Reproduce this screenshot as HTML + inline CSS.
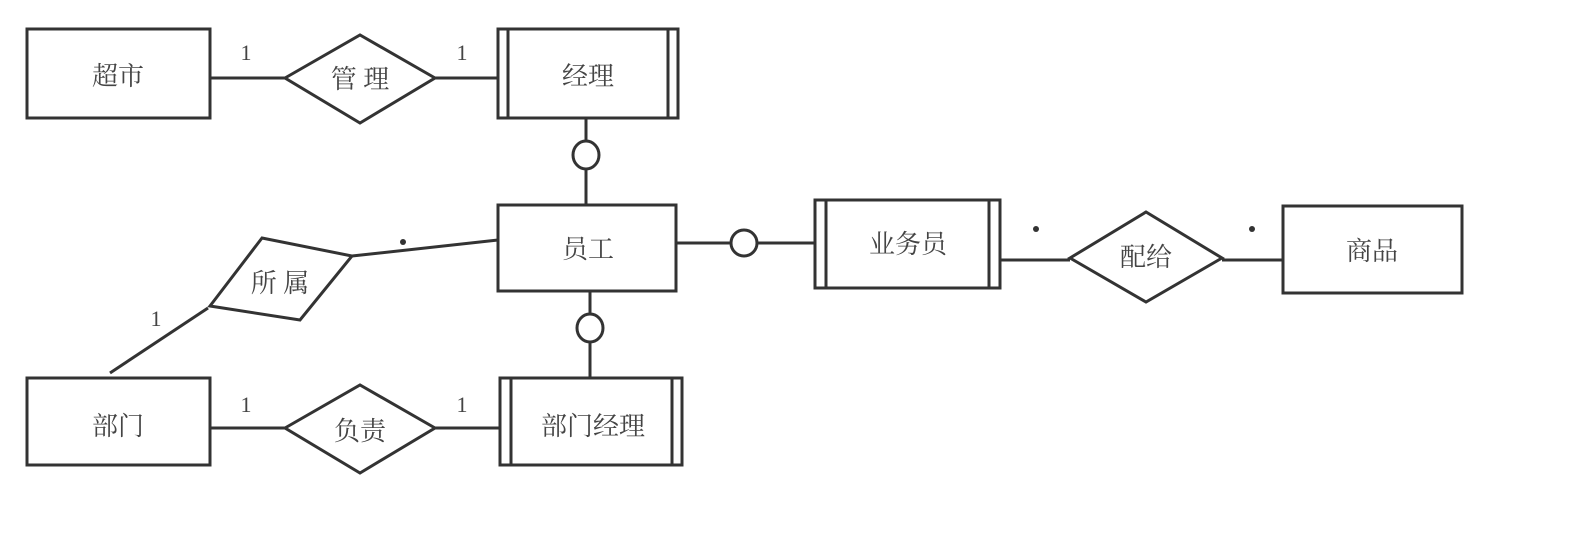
<!DOCTYPE html>
<html><head><meta charset="utf-8"><style>
html,body{margin:0;padding:0;background:#fff;}
svg{display:block;}
text{font-family:"Liberation Serif","Noto Serif CJK SC",serif;fill:#444;font-size:26px;}
.n{font-size:22px;}
</style></head><body>
<svg width="1594" height="533" viewBox="0 0 1594 533" xmlns="http://www.w3.org/2000/svg">
<g fill="none" stroke="#333" stroke-width="3">
<!-- entities -->
<rect x="27" y="29" width="183" height="89"/>
<rect x="498" y="29" width="180" height="89"/>
<line x1="508" y1="29" x2="508" y2="118"/><line x1="668" y1="29" x2="668" y2="118"/>
<rect x="498" y="205" width="178" height="86"/>
<rect x="27" y="378" width="183" height="87"/>
<rect x="500" y="378" width="182" height="87"/>
<line x1="511" y1="378" x2="511" y2="465"/><line x1="672" y1="378" x2="672" y2="465"/>
<rect x="815" y="200" width="185" height="88"/>
<line x1="826" y1="200" x2="826" y2="288"/><line x1="989" y1="200" x2="989" y2="288"/>
<rect x="1283" y="206" width="179" height="87"/>
<!-- relationships -->
<polygon points="285,78 360,35 435,78 360,123"/>
<polygon points="285,428 360,385 435,428 360,473"/>
<polygon points="262,238 352,256 300,320 210,306"/>
<polygon points="1070,258 1146,212 1222,258 1146,302"/>
<!-- lines -->
<line x1="210" y1="78" x2="285" y2="78"/>
<line x1="435" y1="78" x2="498" y2="78"/>
<line x1="210" y1="428" x2="285" y2="428"/>
<line x1="435" y1="428" x2="500" y2="428"/>
<line x1="352" y1="256" x2="498" y2="240"/>
<line x1="208" y1="308" x2="110" y2="373"/>
<line x1="586" y1="118" x2="586" y2="142"/>
<ellipse cx="586" cy="155" rx="13" ry="14"/>
<line x1="586" y1="169" x2="586" y2="205"/>
<line x1="590" y1="291" x2="590" y2="314"/>
<ellipse cx="590" cy="328" rx="13" ry="14"/>
<line x1="590" y1="342" x2="590" y2="378"/>
<line x1="676" y1="243" x2="731" y2="243"/>
<circle cx="744" cy="243" r="13"/>
<line x1="757" y1="243" x2="815" y2="243"/>
<line x1="1000" y1="260" x2="1070" y2="260"/>
<line x1="1222" y1="260" x2="1283" y2="260"/>
</g>
<g fill="#333">
<circle cx="403" cy="242" r="3"/>
<circle cx="1036" cy="229" r="3"/>
<circle cx="1252" cy="229" r="3"/>
</g>
<g text-anchor="middle">
<text x="118" y="85">超市</text>
<text x="360" y="88">管 理</text>
<text x="588" y="85">经理</text>
<text x="588" y="258">员工</text>
<text x="118" y="435">部门</text>
<text x="360" y="440">负责</text>
<text x="593" y="435">部门经理</text>
<text x="908" y="253">业务员</text>
<text x="1146" y="266">配给</text>
<text x="1372" y="260">商品</text>
<text x="280" y="292">所 属</text>
<text class="n" x="246" y="60">1</text>
<text class="n" x="462" y="60">1</text>
<text class="n" x="246" y="412">1</text>
<text class="n" x="462" y="412">1</text>
<text class="n" x="156" y="326">1</text>
</g>
</svg>
</body></html>
